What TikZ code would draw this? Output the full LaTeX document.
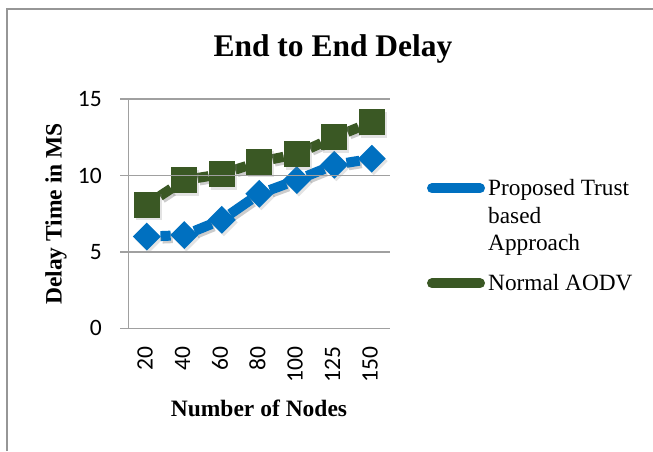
\documentclass[tikz,border=0pt]{standalone}
\usepackage{fontspec}
\setmainfont{Liberation Serif}
\newfontfamily\tickfont{Carlito}
\usetikzlibrary{shapes.geometric, shadows}
\pgfdeclarelayer{edgelayer}
\pgfdeclarelayer{nodelayer}
\pgfsetlayers{edgelayer,nodelayer,main}
\definecolor{trustblue}{RGB}{0,112,192}
\definecolor{aodvgreen}{RGB}{58,88,36}
\definecolor{gridgray}{RGB}{160,160,160}
\definecolor{framegray}{RGB}{150,150,150}
\tikzstyle{gridline}=[draw=gridgray, line width=1.2pt]
\tikzstyle{softshadow}=[drop shadow={opacity=0.22, shadow xshift=2pt, shadow yshift=-2.5pt}]
\tikzstyle{trustedge}=[draw=trustblue, line width=10pt]
\tikzstyle{aodvedge}=[draw=aodvgreen, line width=10pt]
\tikzstyle{lineshadow}=[preaction={draw=black, opacity=0.2, line width=10pt, transform canvas={shift={(2pt,-2.5pt)}}}]
\tikzstyle{trustmark}=[diamond, fill=trustblue, minimum size=28pt, inner sep=0pt]
\tikzstyle{aodvmark}=[rectangle, fill=aodvgreen, minimum size=26pt, inner sep=0pt]
\tikzstyle{ticklabel}=[font=\tickfont\fontsize{23.5}{24}\selectfont, inner sep=0pt]
\tikzstyle{axistitle}=[font=\bfseries\fontsize{23.5}{24}\selectfont, inner sep=0pt]
\tikzstyle{legendtext}=[font=\fontsize{23.3}{27.5}\selectfont, inner sep=0pt, align=left]

\begin{document}
\begin{tikzpicture}[x=1pt, y=-1pt]
	\useasboundingbox (0,0) rectangle (653,451);
	% frame
	\draw [draw=framegray, line width=2pt] (7,451) -- (7,8.5) -- (653,8.5);
	% grid and axes
	\coordinate (g0l) at (120,328.3); \coordinate (g0r) at (390,328.3);
	\coordinate (g5l) at (120,252);   \coordinate (g5r) at (390,252);
	\coordinate (g10l) at (120,175.7); \coordinate (g10r) at (390,175.7);
	\coordinate (g15l) at (120,99);   \coordinate (g15r) at (390,99);
	\coordinate (ytop) at (128.3,99); \coordinate (ybot) at (128.3,328.3);
	\draw [style=gridline] (g0l) -- (g0r);
	\draw [style=gridline] (g5l) -- (g5r);
	\draw [style=gridline] (g10l) -- (g10r);
	\draw [style=gridline] (g15l) -- (g15r);
	\draw [style=gridline] (ytop) -- (ybot);
	% y ticks
	\node [style=ticklabel, anchor=east] (y0) at (102,328.3) {0};
	\node [style=ticklabel, anchor=east] (y5) at (102,252) {5};
	\node [style=ticklabel, anchor=east] (y10) at (102,175.7) {10};
	\node [style=ticklabel, anchor=east] (y15) at (102,99) {15};
	% x ticks
	\node [style=ticklabel, rotate=90, anchor=east] (x1) at (145,346.7) {20};
	\node [style=ticklabel, rotate=90, anchor=east] (x2) at (182.5,346.7) {40};
	\node [style=ticklabel, rotate=90, anchor=east] (x3) at (220,346.7) {60};
	\node [style=ticklabel, rotate=90, anchor=east] (x4) at (257.5,346.7) {80};
	\node [style=ticklabel, rotate=90, anchor=east] (x5) at (295,346.7) {100};
	\node [style=ticklabel, rotate=90, anchor=east] (x6) at (332.5,346.7) {125};
	\node [style=ticklabel, rotate=90, anchor=east] (x7) at (370,346.7) {150};
	% titles
	\node [font=\bfseries\fontsize{31.5}{32}\selectfont, inner sep=0pt, anchor=base] (title) at (333,56.7) {End to End Delay};
	\node [style=axistitle, anchor=base] (xtitle) at (259,416.7) {Number of Nodes};
	\node [style=axistitle, rotate=90] (ytitle) at (56,214) {Delay Time in MS};
	\begin{pgfonlayer}{nodelayer}
		\node [style=trustmark, style=softshadow] (t1) at (146.8,236.6) {};
		\node [style=trustmark, style=softshadow] (t2) at (184.3,235.1) {};
		\node [style=trustmark, style=softshadow] (t3) at (221.8,219.8) {};
		\node [style=trustmark, style=softshadow] (t4) at (259.3,193.8) {};
		\node [style=trustmark, style=softshadow] (t5) at (296.8,180.1) {};
		\node [style=trustmark, style=softshadow] (t6) at (334.3,164.8) {};
		\node [style=trustmark, style=softshadow] (t7) at (371.8,158.7) {};
		\node [style=aodvmark, style=softshadow] (n1) at (146.8,204.5) {};
		\node [style=aodvmark, style=softshadow] (n2) at (184.3,180.1) {};
		\node [style=aodvmark, style=softshadow] (n3) at (221.8,174.0) {};
		\node [style=aodvmark, style=softshadow] (n4) at (259.3,161.8) {};
		\node [style=aodvmark, style=softshadow] (n5) at (296.8,154.1) {};
		\node [style=aodvmark, style=softshadow] (n6) at (334.3,137.3) {};
		\node [style=aodvmark, style=softshadow] (n7) at (371.8,122.0) {};
		% legend
		\node [style=trustmark, minimum width=9pt, minimum height=14pt, minimum size=0pt] (lt) at (458,188.3) {};
		\node [style=aodvmark, minimum width=20pt, minimum height=13pt, minimum size=0pt] (ln) at (458,283.3) {};
		\node [style=legendtext, anchor=north west] (ltext) at (488,179.5) {Proposed Trust\\based\\Approach};
		\node [style=legendtext, anchor=base west] (ntext) at (488,290) {Normal AODV};
	\end{pgfonlayer}
	\begin{pgfonlayer}{edgelayer}
		\draw [style=trustedge, style=lineshadow] (t1) to (t2);
		\draw [style=trustedge, style=lineshadow] (t2) to (t3);
		\draw [style=trustedge, style=lineshadow] (t3) to (t4);
		\draw [style=trustedge, style=lineshadow] (t4) to (t5);
		\draw [style=trustedge, style=lineshadow] (t5) to (t6);
		\draw [style=trustedge, style=lineshadow] (t6) to (t7);
		\draw [style=aodvedge, style=lineshadow] (n1) to (n2);
		\draw [style=aodvedge, style=lineshadow] (n2) to (n3);
		\draw [style=aodvedge, style=lineshadow] (n3) to (n4);
		\draw [style=aodvedge, style=lineshadow] (n4) to (n5);
		\draw [style=aodvedge, style=lineshadow] (n5) to (n6);
		\draw [style=aodvedge, style=lineshadow] (n6) to (n7);
		\coordinate (lt1) at (432,188.3); \coordinate (lt2) at (480,188.3);
		\coordinate (ln1) at (432,283.3); \coordinate (ln2) at (480,283.3);
		\draw [style=trustedge, line cap=round] (lt1) -- (lt2);
		\draw [style=aodvedge, line cap=round] (ln1) -- (ln2);
	\end{pgfonlayer}
\end{tikzpicture}
\end{document}
